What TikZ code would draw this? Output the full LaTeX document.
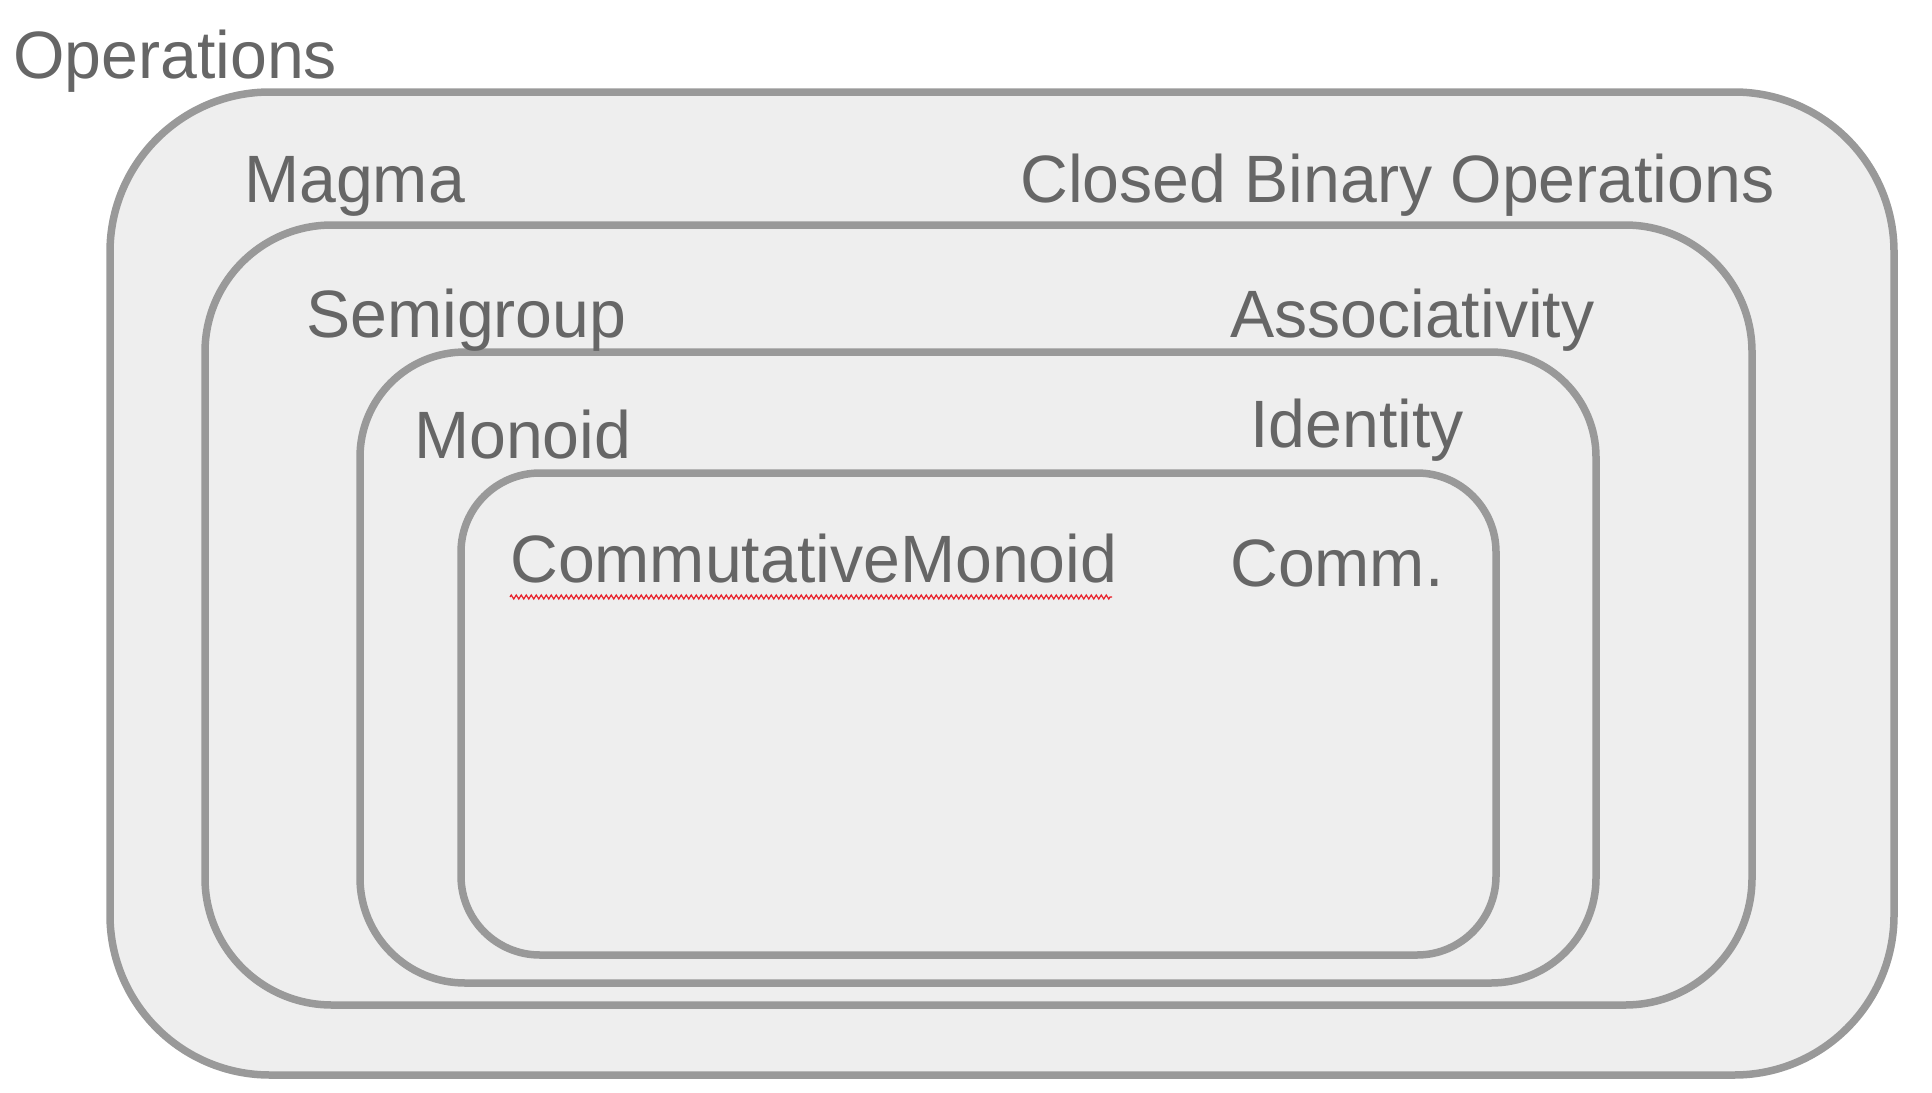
\documentclass[tikz,border=0pt]{standalone}
\usepackage{fontspec}
\setmainfont{Liberation Sans}[FakeStretch=0.988]
\usetikzlibrary{decorations.pathmorphing}
\definecolor{txtgray}{HTML}{666666}
\definecolor{linegray}{HTML}{999999}
\definecolor{fillgray}{HTML}{EEEEEE}
\definecolor{spellred}{HTML}{E8202A}
\tikzset{
  setbox/.style={draw=linegray, fill=fillgray, line width=7.5pt},
  lbl/.style={text=txtgray, inner sep=0pt, anchor=base west,
    font=\fontsize{67}{80}\selectfont},
  squiggle/.style={draw=spellred, line width=1.2pt,
    decorate, decoration={zigzag, segment length=5pt, amplitude=2pt}}
}
\begin{document}
\begin{tikzpicture}[x=1pt, y=-1pt]
\useasboundingbox (0,0) rectangle (1932,1092);
% nested sets
\draw[setbox, rounded corners=160pt] (110,92) rectangle (1894,1075);
\draw[setbox, rounded corners=127pt] (205,225) rectangle (1752,1005);
\draw[setbox, rounded corners=105pt] (360,352) rectangle (1596,983);
\draw[setbox, rounded corners=79pt] (461,473) rectangle (1496,955);
% labels
\node[lbl] (ops) at (13,78) {Operations};
\node[lbl] (magma) at (244,202) {Magma};
\node[lbl] (cbo) at (1020,202) {Closed Binary Operations};
\node[lbl] (semi) at (306,337) {Semigroup};
\node[lbl] (assoc) at (1230,337) {Associativity};
\node[lbl] (mono) at (414,458) {Monoid};
\node[lbl] (ident) at (1250,447) {Identity};
\node[lbl] (cmono) at (510,582) {CommutativeMonoid};
\node[lbl] (comm) at (1230,586) {Comm.};
% spell-check underline
\coordinate (sqa) at (510,597);
\coordinate (sqb) at (1112,597);
\draw[squiggle] (sqa) -- (sqb);
\end{tikzpicture}
\end{document}
